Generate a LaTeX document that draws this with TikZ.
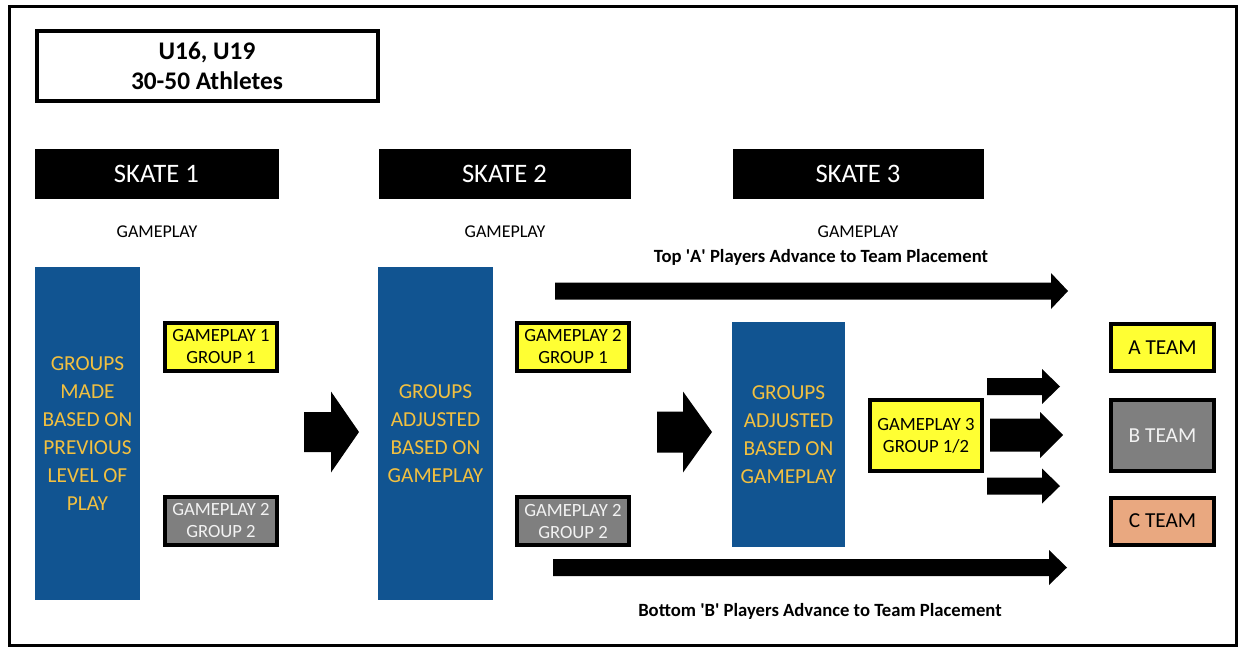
\documentclass[tikz,border=0pt]{standalone}
\usepackage{fontspec}
\setmainfont{Carlito}
\usepackage{xcolor}
\usepackage{tikz}
\usetikzlibrary{positioning}
\usetikzlibrary{calc}
\definecolor{skateblue}{RGB}{17,84,145}
\definecolor{skategold}{RGB}{242,192,64}
\definecolor{boxyellow}{RGB}{255,255,51}
\definecolor{boxgrey}{RGB}{127,127,127}
\definecolor{boxsalmon}{RGB}{233,168,128}
% fat block arrow: from, to, shaft half, head half, head length
\newcommand{\blockarrow}[5]{\fill ($(#1)+(0,#3)$) -- ($(#2)+(-#5,#3)$) -- ($(#2)+(-#5,#4)$) -- (#2) -- ($(#2)+(-#5,-#4)$) -- ($(#2)+(-#5,-#3)$) -- ($(#1)+(0,-#3)$) -- cycle;}

\begin{document}
\begin{tikzpicture}[x=0.75pt,y=-0.75pt,
    title box/.style={draw,line width=3pt,align=center,inner sep=0pt,minimum width=255.75pt,minimum height=52.5pt,font=\bfseries\fontsize{19}{22.5}\selectfont},
    skate bar/.style={fill=black,text=white,inner sep=0pt,minimum height=37.5pt,font=\fontsize{20}{24}\selectfont},
    play label/.style={font=\fontsize{13.5}{16}\selectfont},
    group col/.style={fill=skateblue,text=skategold,align=center,inner sep=0pt,font=\fontsize{16}{21}\selectfont},
    game box/.style={draw,line width=3pt,align=center,inner sep=0pt,minimum width=84pt,minimum height=36pt,font=\fontsize{14}{16.5}\selectfont},
    team box/.style={draw,line width=3pt,inner sep=0pt,minimum width=77.25pt,minimum height=35.25pt,font=\fontsize{16}{19}\selectfont},
    advance/.style={font=\bfseries\fontsize{14}{17}\selectfont}]
    \useasboundingbox (0,0) rectangle (1241,647);
    \draw[line width=2.25pt] (9,6) rectangle (1236,645);

    \node[title box] (title) at (207,66) {U16, U19\\30-50 Athletes};

    \node[skate bar,minimum width=183pt] (skate1) at (156.5,174) {SKATE 1};
    \node[skate bar,minimum width=189pt] (skate2) at (504.5,174) {SKATE 2};
    \node[skate bar,minimum width=188.25pt] (skate3) at (858,174) {SKATE 3};

    \node[play label] (play1) at (157,232) {GAMEPLAY};
    \node[play label] (play2) at (505,232) {GAMEPLAY};
    \node[play label] (play3) at (858,232) {GAMEPLAY};

    \node[group col,minimum width=78.75pt,minimum height=249.75pt] (groups1) at (87.5,433.5) {GROUPS\\MADE\\BASED ON\\PREVIOUS\\LEVEL OF\\PLAY};
    \node[group col,minimum width=86.25pt,minimum height=249.75pt] (groups2) at (435.5,433.5) {GROUPS\\ADJUSTED\\BASED ON\\GAMEPLAY};
    \node[group col,minimum width=84.75pt,minimum height=168.75pt] (groups3) at (788.5,434.5) {GROUPS\\ADJUSTED\\BASED ON\\GAMEPLAY};

    \node[game box,fill=boxyellow] (g11) at (221,347) {GAMEPLAY 1\\GROUP 1};
    \node[game box,fill=boxgrey,text=white!95!black] (g12) at (221,520.5) {GAMEPLAY 2\\GROUP 2};
    \node[game box,fill=boxyellow] (g21) at (573,347) {GAMEPLAY 2\\GROUP 1};
    \node[game box,fill=boxgrey,text=white!95!black] (g22) at (573,521) {GAMEPLAY 2\\GROUP 2};
    \node[game box,fill=boxyellow,minimum height=53.25pt] (g3) at (926,435.5) {GAMEPLAY 3\\GROUP 1/2};

    \node[team box,fill=boxyellow] (ateam) at (1162.5,347.5) {A TEAM};
    \node[team box,fill=boxgrey,text=white!95!black,minimum height=53.25pt] (bteam) at (1162.5,435.5) {B TEAM};
    \node[team box,fill=boxsalmon] (cteam) at (1162.5,521) {C TEAM};

    \node[advance] (topA) at (821,257) {Top \textquotesingle A\textquotesingle{} Players Advance to Team Placement};
    \node[advance] (botB) at (820,611) {Bottom \textquotesingle B\textquotesingle{} Players Advance to Team Placement};

    % arrow ends
    \coordinate (b1s) at (304,432);   \coordinate (b1e) at (359,432);
    \coordinate (b2s) at (657,432);   \coordinate (b2e) at (712,432);
    \coordinate (tas) at (555,291);   \coordinate (tae) at (1068,291);
    \coordinate (bbs) at (553,567.5); \coordinate (bbe) at (1067,567.5);
    \coordinate (s1s) at (987,386.5); \coordinate (s1e) at (1060,386.5);
    \coordinate (s2s) at (990,435);   \coordinate (s2e) at (1063,435);
    \coordinate (s3s) at (987,486);   \coordinate (s3e) at (1060,486);

    \blockarrow{b1s}{b1e}{20}{40.5}{28}
    \blockarrow{b2s}{b2e}{20.5}{40.5}{29}
    \blockarrow{tas}{tae}{8.5}{18}{17}
    \blockarrow{bbs}{bbe}{8.5}{17.5}{18}
    \blockarrow{s1s}{s1e}{8.5}{17.5}{18}
    \blockarrow{s2s}{s2e}{16.5}{23}{23}
    \blockarrow{s3s}{s3e}{8.5}{17.5}{18}
\end{tikzpicture}
\end{document}
